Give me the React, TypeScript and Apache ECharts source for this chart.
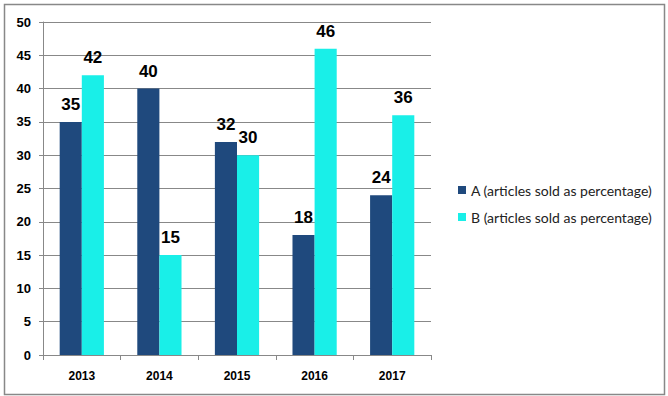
import React, { useEffect, useRef } from "react";
import * as echarts from "echarts";

const categories = ["2013", "2014", "2015", "2016", "2017"];
const seriesA = [35, 40, 32, 18, 24];
const seriesB = [42, 15, 30, 46, 36];
const nameA = "A (articles sold as percentage)";
const nameB = "B (articles sold as percentage)";

export default function App() {
  const ref = useRef<HTMLDivElement>(null);
  useEffect(() => {
    if (!ref.current) return;
    document.body.style.margin = "0";
    const chart = echarts.init(ref.current, undefined, { renderer: "svg" });
    const labelStyle = {
      show: true,
      position: "top" as const,
      fontFamily: "Liberation Sans, Arial, sans-serif",
      fontWeight: "bold" as const,
      fontSize: 17,
      color: "#000",
      distance: 9,
    };
    chart.setOption({
      animation: false,
      backgroundColor: "#fff",
      graphic: [
        {
          type: "rect",
          shape: { x: 4.5, y: 4.5, width: 660, height: 390 },
          style: { fill: "none", stroke: "#888", lineWidth: 1.5 },
          silent: true,
        },
      ],
      grid: { left: 43, right: 237, top: 22, bottom: 41 },
      legend: {
        orient: "vertical",
        left: 453,
        top: 178,
        itemWidth: 8,
        itemHeight: 8,
        itemGap: 13,
        icon: "rect",
        textStyle: { fontFamily: "Lato, Open Sans, sans-serif", fontSize: 14, color: "#222" },
        data: [nameA, nameB],
      },
      xAxis: {
        type: "category",
        data: categories,
        axisLine: { lineStyle: { color: "#888" } },
        axisTick: { show: true, length: 5, lineStyle: { color: "#888" } },
        axisLabel: {
          fontFamily: "Liberation Sans, Arial, sans-serif",
          fontWeight: "bold",
          fontSize: 12,
          color: "#000",
          margin: 15,
        },
      },
      yAxis: {
        type: "value",
        min: 0,
        max: 50,
        interval: 5,
        axisLine: { show: true, lineStyle: { color: "#888" } },
        axisTick: { show: true, length: 4, lineStyle: { color: "#888" } },
        splitLine: { lineStyle: { color: "#888" } },
        axisLabel: {
          fontFamily: "Liberation Sans, Arial, sans-serif",
          fontWeight: "bold",
          fontSize: 13,
          color: "#000",
          margin: 12,
        },
      },
      series: [
        {
          name: nameA,
          type: "bar",
          data: seriesA,
          barGap: "0%",
          barCategoryGap: "43%",
          itemStyle: { color: "#1F497D" },
          label: labelStyle,
        },
        {
          name: nameB,
          type: "bar",
          data: seriesB,
          itemStyle: { color: "#19EFE8" },
          label: labelStyle,
        },
      ],
    });
    return () => chart.dispose();
  }, []);
  return <div ref={ref} style={{ width: 668, height: 396 }} />;
}
